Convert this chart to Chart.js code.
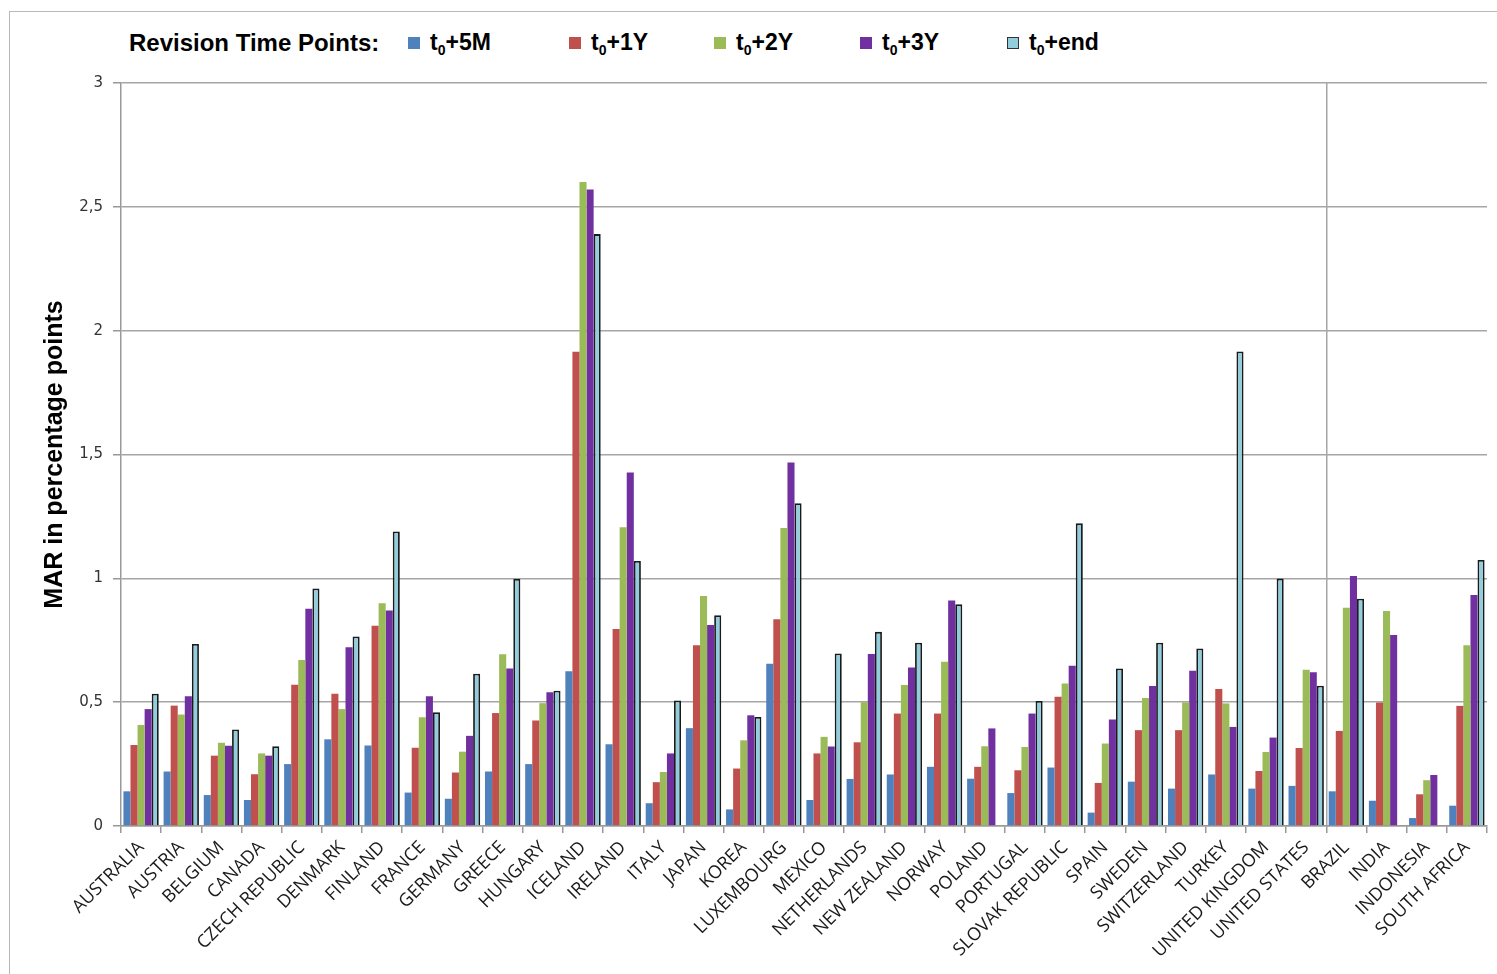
<!DOCTYPE html>
<html>
<head>
<meta charset="utf-8">
<script src="https://cdn.jsdelivr.net/npm/chart.js@4/dist/chart.umd.min.js"></script>
<style>
body{margin:0;background:#fff;}
#wrap{position:relative;width:1497px;height:974px;}
#frame{position:absolute;left:9px;top:11px;right:-5px;bottom:-5px;border:1.5px solid #b8b8b8;}
#legend{position:absolute;left:0;top:29px;width:1497px;height:28px;font-family:"Liberation Sans",Arial,sans-serif;font-weight:bold;font-size:23px;color:#000;}
#legend span.t{position:absolute;top:0;line-height:28px;white-space:nowrap;font-size:24px;}
#legend .item{position:absolute;top:0;display:flex;align-items:center;height:28px;white-space:nowrap;}
#legend .box{width:12px;height:12px;margin-right:10px;box-sizing:border-box;}
#legend sub{font-size:14px;vertical-align:-5px;}
canvas{position:absolute;left:0;top:0;}
</style>
</head>
<body>
<div id="wrap">
<div id="frame"></div>
<div id="legend"><span class="t" style="left:129px">Revision Time Points:</span></div>
<canvas id="myChart" width="1497" height="974"></canvas>
</div>
<script>
var countries = ["AUSTRALIA","AUSTRIA","BELGIUM","CANADA","CZECH REPUBLIC","DENMARK","FINLAND","FRANCE","GERMANY","GREECE","HUNGARY","ICELAND","IRELAND","ITALY","JAPAN","KOREA","LUXEMBOURG","MEXICO","NETHERLANDS","NEW ZEALAND","NORWAY","POLAND","PORTUGAL","SLOVAK REPUBLIC","SPAIN","SWEDEN","SWITZERLAND","TURKEY","UNITED KINGDOM","UNITED STATES","BRAZIL","INDIA","INDONESIA","SOUTH AFRICA"]
var seriesNames = ["+5M","+1Y","+2Y","+3Y","+end"]
var m5 =   [0.14,0.22,0.125,0.105,0.25,0.35,0.325,0.135,0.11,0.22,0.25,0.625,0.33,0.092,0.395,0.067,0.655,0.105,0.19,0.208,0.239,0.191,0.133,0.236,0.054,0.179,0.151,0.208,0.151,0.162,0.14,0.102,0.032,0.082]
var y1 =   [0.327,0.486,0.284,0.209,0.57,0.534,0.809,0.316,0.216,0.456,0.426,1.915,0.795,0.177,0.73,0.232,0.835,0.293,0.338,0.454,0.454,0.239,0.225,0.522,0.174,0.387,0.387,0.553,0.222,0.315,0.384,0.499,0.128,0.485]
var y2 =   [0.408,0.45,0.336,0.293,0.67,0.472,0.899,0.439,0.3,0.693,0.496,2.60,1.206,0.218,0.929,0.346,1.203,0.36,0.5,0.569,0.663,0.322,0.319,0.575,0.333,0.517,0.499,0.495,0.299,0.631,0.881,0.868,0.185,0.73]
var y3 =   [0.472,0.524,0.324,0.284,0.877,0.722,0.87,0.524,0.364,0.636,0.54,2.57,1.427,0.293,0.812,0.447,1.468,0.321,0.694,0.64,0.91,0.394,0.454,0.647,0.43,0.565,0.627,0.40,0.357,0.621,1.009,0.771,0.206,0.933]
var yEnd = [0.534,0.735,0.39,0.322,0.959,0.765,1.189,0.459,0.615,0.998,0.546,2.39,1.07,0.507,0.851,0.44,1.303,0.697,0.784,0.74,0.895,null,0.505,1.222,0.636,0.74,0.717,1.916,0.999,0.566,0.918,null,null,1.074]
var colors = ["#4f81bd","#c0504d","#9bbb59","#7030a0","#92cddd"]
var yTicks = [0,0.5,1,1.5,2,2.5,3]

// legend in html so the subscript 0 works
var legend = document.getElementById("legend")
var legendLeft = [408,569,714,860,1007]
seriesNames.forEach(function(name,i){
    var item = document.createElement("span")
    item.className = "item"
    item.style.left = legendLeft[i]+"px"
    var box = document.createElement("span")
    box.className = "box"
    box.style.background = colors[i]
    if(i==4){ box.style.border = "1.5px solid #333" }
    item.appendChild(box)
    var txt = document.createElement("span")
    txt.innerHTML = "t<sub>0</sub>" + name
    item.appendChild(txt)
    legend.appendChild(item)
})

var allData = [m5,y1,y2,y3,yEnd]
var datasets = []
for(var i=0;i<5;i++){
    datasets.push({
        label: "t0"+seriesNames[i],
        data: allData[i],
        backgroundColor: colors[i],
        borderColor: i==4 ? "#1a1a1a" : colors[i],
        borderWidth: i==4 ? 1.8 : 0,
        categoryPercentage: 0.88,
        barPercentage: 1.0
    })
}

const ctx = document.getElementById("myChart")
var chart = new Chart(ctx, {
    type: "bar",
    data: {labels: countries, datasets: datasets},
    options: {
        responsive: false,
        animation: false,
        layout: {padding: {top: 83, right: 10, left: 0, bottom: 0}},
        plugins: {legend: {display: false}, tooltip: {enabled: false}},
        scales: {
            x: {
                afterFit: function(s){ s.height = 148 },
                grid: {
                    offset: true,
                    color: function(c){ return c.index==30 ? "#a6a6a6" : "rgba(0,0,0,0)" },
                    lineWidth: 1.5,
                    tickColor: "#999",
                    tickLength: 7
                },
                border: {color: "#999", width: 1.5},
                ticks: {
                    autoSkip: false,
                    minRotation: 45,
                    maxRotation: 45,
                    padding: 4,
                    color: "#1a1a1a",
                    font: {family: "'Open Sans', sans-serif", size: 18}
                }
            },
            y: {
                min: 0, max: 3,
                afterFit: function(s){ s.width = 121 },
                afterBuildTicks: function(s){ s.ticks = yTicks.map(function(v){ return {value: v} }) },
                grid: {color: "#a6a6a6", lineWidth: 1.5, tickLength: 8, tickColor: "#999"},
                border: {color: "#999", width: 1.5},
                ticks: {
                    padding: 10,
                    color: "#333",
                    font: {family: "'DejaVu Sans', sans-serif", size: 15},
                    callback: function(v){ return String(v).replace(".", ",") }
                },
                title: {
                    display: true,
                    text: "MAR in percentage points",
                    color: "#000",
                    padding: {top: 40, bottom: 0},
                    font: {family: "'Liberation Sans', Arial, sans-serif", weight: "bold", size: 25}
                }
            }
        }
    }
})
</script>
</body>
</html>
